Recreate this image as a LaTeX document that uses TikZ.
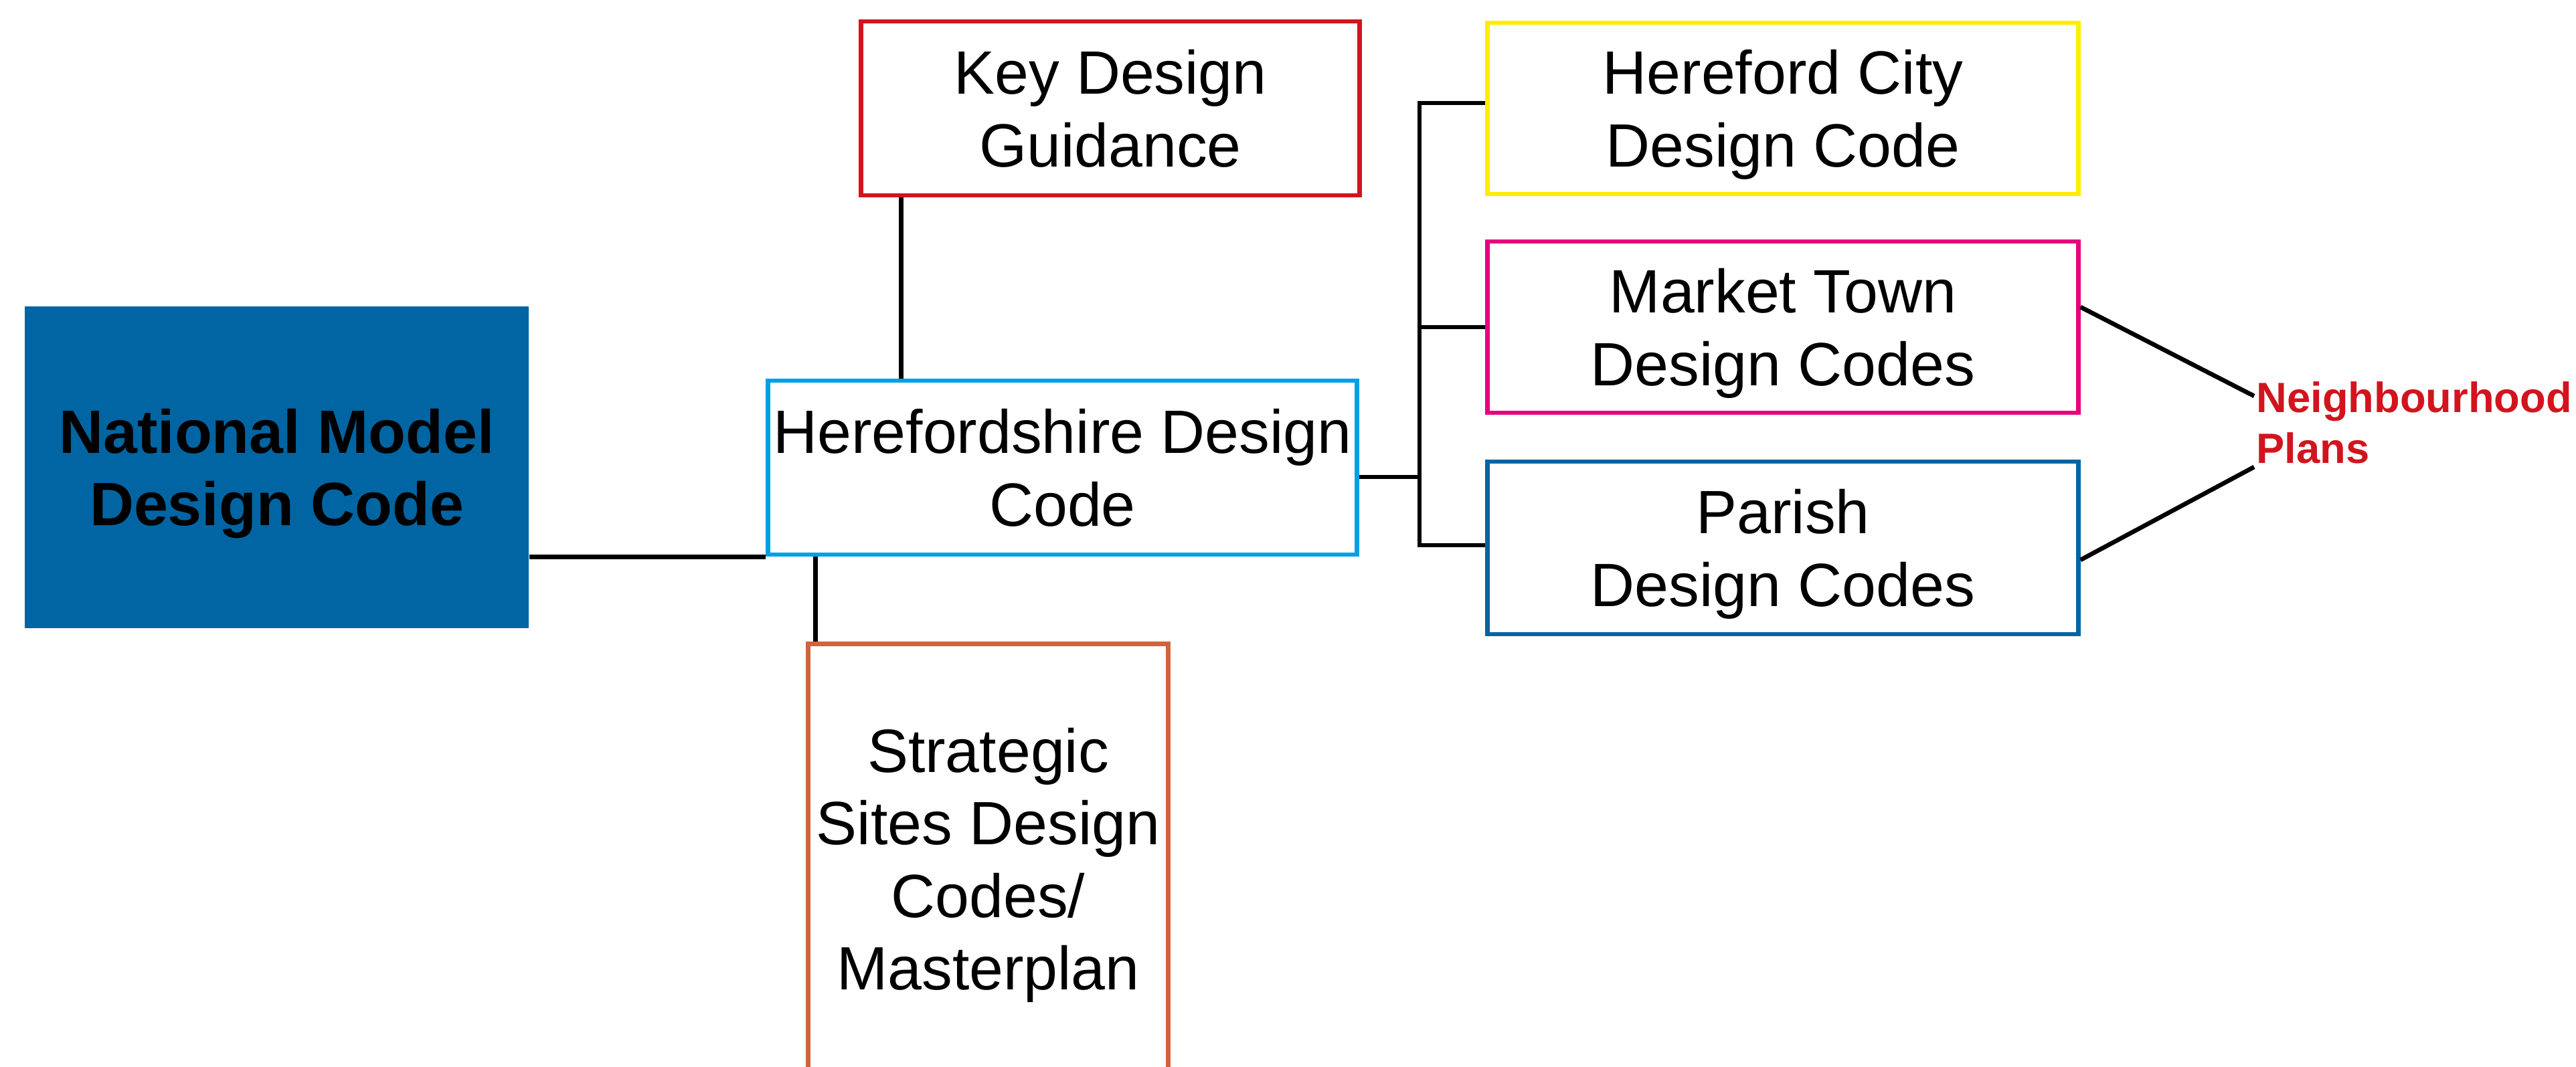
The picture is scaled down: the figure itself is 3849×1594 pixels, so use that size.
\documentclass[tikz,border=0pt]{standalone}
\usepackage{fontspec}
\setmainfont{Liberation Sans}
\usepackage{xcolor}
\usepackage{tikz}
\usetikzlibrary{calc,positioning}

\definecolor{ncblue}{RGB}{0,101,162}
\definecolor{kdred}{RGB}{210,20,30}
\definecolor{hdcyan}{RGB}{0,160,227}
\definecolor{ssorange}{RGB}{208,100,60}
\definecolor{hcyellow}{RGB}{255,237,0}
\definecolor{mtmagenta}{RGB}{230,0,126}

\begin{document}
\begin{tikzpicture}[x=0.01cm,y=-0.01cm]

\tikzset{codebox/.style={draw=#1, line width=0.068cm, fill=white, align=center, inner sep=0pt,
   text depth=0pt, font=\fontsize{26}{30.8}\selectfont},
%plain black connector
link/.style={line width=0.066cm, black}}

\useasboundingbox (0,0) rectangle (3849,1594);
\clip (0,0) rectangle (3849,1594);

\node[fill=ncblue, align=center, inner sep=0pt, text depth=0pt, minimum width=7.53cm, minimum height=4.81cm,
   font=\fontsize{26}{30.8}\selectfont\bfseries] (nmdc) at (413.5,698.5) {National Model\\Design Code};

\node[codebox=kdred, minimum width=7.44cm, minimum height=2.60cm] (kdg) at (1659,162) {Key Design\\Guidance};
\node[codebox=hdcyan, minimum width=8.79cm, minimum height=2.60cm] (hdc) at (1587.5,699) {Herefordshire Design\\Code};
\node[codebox=ssorange, minimum width=5.37cm, minimum height=6.42cm] (ssdc) at (1476.5,1284) {Strategic\\Sites Design\\Codes/\\Masterplan};

\node[codebox=hcyellow, minimum width=8.82cm, minimum height=2.56cm] (hcdc) at (2664,162) {Hereford City\\Design Code};
\node[codebox=mtmagenta, minimum width=8.82cm, minimum height=2.56cm] (mtdc) at (2664,489) {Market Town\\Design Codes};
\node[codebox=ncblue, minimum width=8.82cm, minimum height=2.58cm] (pdc) at (2664,819) {Parish\\Design Codes};

\node[anchor=west, align=left, inner sep=0pt, text=kdred,
   font=\fontsize{18}{21.5}\selectfont\bfseries] (np) at (3371,632) {Neighbourhood\\Plans};

%links of the herefordshire code
\draw[link] (hdc.south west) -- (hdc.south west -| nmdc.east);
\draw[link] ([xshift=0.63cm]kdg.south west) -- ([xshift=0.63cm]kdg.south west |- hdc.north);
\draw[link] ([xshift=0.14cm]ssdc.north west) -- ([xshift=0.14cm]ssdc.north west |- hdc.south);

%bracket on the right
\coordinate (spine) at (2121,489);
\draw[link] ([yshift=0.08cm]hcdc.west) -| (spine) |- ([yshift=0.04cm]pdc.west);
\draw[link] (mtdc.west) -- (spine);
\draw[link] ([yshift=-0.14cm]hdc.east) -- ([yshift=-0.14cm]hdc.east -| spine);

\draw[link] ([yshift=0.30cm]mtdc.east) -- ([xshift=-0.03cm,yshift=0.40cm]np.west);
\draw[link] ([yshift=-0.18cm]pdc.east) -- ([xshift=-0.03cm,yshift=-0.66cm]np.west);

\end{tikzpicture}
\end{document}
